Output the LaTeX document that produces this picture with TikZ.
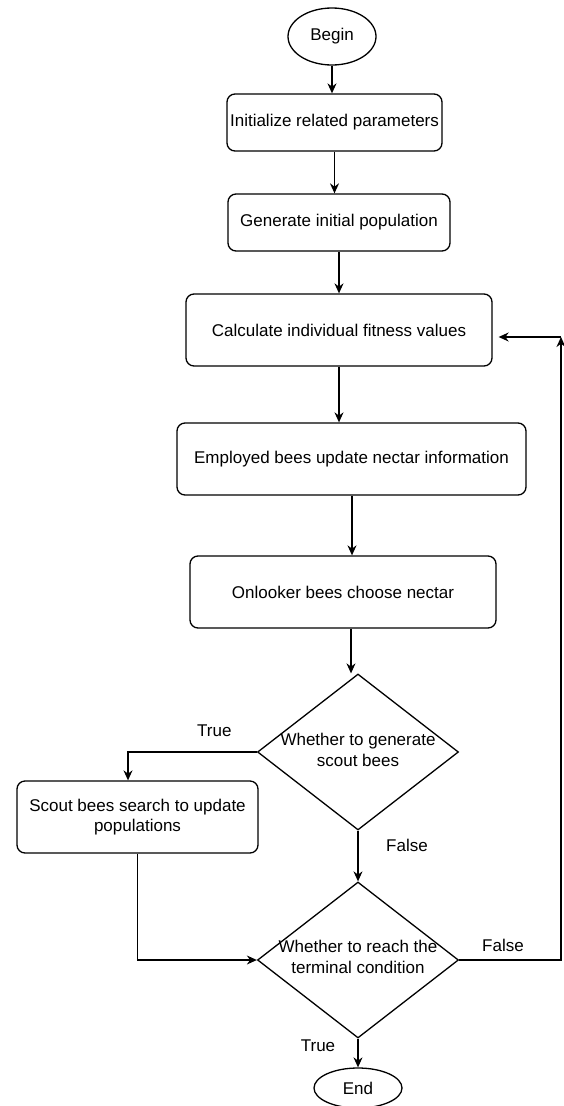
\documentclass[tikz,border=0pt]{standalone}
\usepackage{fontspec}
\setmainfont{Liberation Sans}
\usetikzlibrary{shapes.geometric,arrows.meta}

\begin{document}
\begin{tikzpicture}[x=1pt,y=-1pt,
    font=\fontsize{17}{20.5}\selectfont,
    proc/.style={draw, rounded corners=8pt, line width=1.3pt, inner sep=0pt, align=center},
    term/.style={draw, ellipse, line width=1.3pt, inner sep=0pt, minimum width=88pt},
    decide/.style={draw, diamond, line width=1.3pt, inner sep=0pt, minimum width=201pt, minimum height=156pt},
    arr/.style={-{Stealth[length=10pt,width=9pt]}, line width=1.3pt},
    lbl/.style={inner sep=0pt}]
    \useasboundingbox (0,0) rectangle (564,1106);
    % terminals and steps
    \node[term, minimum height=57pt] (begin) at (332,36.5) {Begin};
    \node[proc, minimum width=215pt, minimum height=57pt] (init) at (334.5,122.5) {Initialize related parameters};
    \node[proc, minimum width=222pt, minimum height=57pt] (gen) at (339,222.5) {Generate initial population};
    \node[proc, minimum width=306pt, minimum height=72pt] (calc) at (339,330) {Calculate individual fitness values};
    \node[proc, minimum width=349pt, minimum height=72pt] (emp) at (351.5,459) {Employed bees update nectar information};
    \node[proc, minimum width=306pt, minimum height=72pt] (onl) at (343,592) {Onlooker bees choose nectar};
    \node[decide, label={[lbl, align=center, yshift=2pt]center:{Whether to generate\\scout bees}}] (gsb) at (358,752) {};
    \node[proc, minimum width=241pt, minimum height=72pt] (scout) at (137.5,817) {Scout bees search to update\\populations};
    \node[decide, label={[lbl, align=center, yshift=3pt]center:{Whether to reach the\\terminal condition}}] (term) at (358,960) {};
    \node[term, minimum height=40pt] (end) at (358,1088) {End};
    \coordinate (fb) at (561,960);
    \coordinate (fbtop) at (561,337);
    % arrows
    \draw[arr] (begin.south) -- (begin.south |- init.north);
    \draw[arr] (init.south) -- (init.south |- gen.north);
    \draw[arr] (gen) -- (calc);
    \draw[arr] (calc.south) -- (calc.south |- emp.north);
    \draw[arr] ([xshift=0.5pt]emp.south) -- ([xshift=0.5pt]emp.south |- onl.north);
    \draw[arr] ([xshift=8pt]onl.south) -- ([xshift=8pt]onl.south |- gsb.north);
    \draw[arr] (gsb.west) -| node[lbl, pos=0.165, yshift=21pt] {True} ([xshift=-9.5pt]scout.north);
    \draw[arr] (gsb.south) -- node[lbl, pos=0.29, xshift=49pt] {False} (term.north);
    \draw[arr] (scout.south) |- (term.west);
    \draw[arr] (term.south) -- node[lbl, pos=0.23, xshift=-40pt] {True} (end.north);
    \draw[arr] (term.east) -- node[lbl, pos=0.43, yshift=15pt] {False} (fb) -- (fbtop);
    \draw[arr] (fbtop) -- ([xshift=6pt]calc.east |- fbtop);
\end{tikzpicture}
\end{document}
